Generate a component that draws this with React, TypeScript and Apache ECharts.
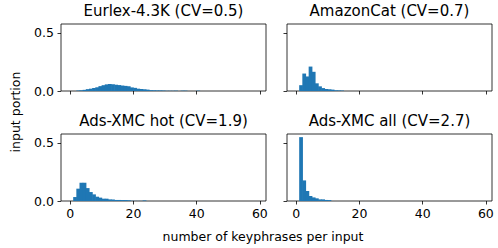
import React, { useEffect, useRef } from "react";
import * as echarts from "echarts";

// histogram heights per integer bin [k, k+1), k = 0, 1, 2, ...
const eurlex = [0, 0, 0.004, 0.006, 0.01, 0.016, 0.02, 0.026, 0.032, 0.042, 0.05, 0.057, 0.06, 0.058, 0.054, 0.051, 0.047, 0.044, 0.04, 0.031, 0.027, 0.02, 0.017, 0.015, 0.012, 0.007, 0.006, 0.005, 0.005, 0.004, 0.002, 0.002, 0.002, 0.003, 0, 0.003, 0.003, 0, 0, 0, 0.003];
const amazonCat = [0, 0.05, 0.15, 0.125, 0.21, 0.165, 0.066, 0.04, 0.025, 0.017, 0.015, 0.012, 0.006, 0.005, 0.004];
const adsHot = [0, 0.034, 0.106, 0.157, 0.157, 0.111, 0.077, 0.057, 0.037, 0.029, 0.02, 0.02, 0.014, 0.013, 0.009, 0.009, 0.008, 0.008, 0.007, 0.002, 0.001, 0.001, 0.001, 0.005];
const adsAll = [0, 0.549, 0.177, 0.086, 0.043, 0.031, 0.023, 0.014, 0.014, 0.009, 0.008];

const titles = ["Eurlex-4.3K (CV=0.5)", "AmazonCat (CV=0.7)", "Ads-XMC hot (CV=1.9)", "Ads-XMC all (CV=2.7)"];
const xTicks = [0, 20, 40, 60];
const yTicks = [0, 0.5];
const xLabel = "number of keyphrases per input";
const yLabel = "input portion";

const FONT = "DejaVu Sans";

export default function App() {
  const ref = useRef<HTMLDivElement>(null);
  useEffect(() => {
    if (!ref.current) return;
    const chart = echarts.init(ref.current, undefined, { renderer: "svg" });
    const datasets = [eurlex, amazonCat, adsHot, adsAll];
    const lefts = [61, 287];
    const tops = [24, 134];
    const W = 205;
    const H = 67;
    const grids: any[] = [];
    const xAxes: any[] = [];
    const yAxes: any[] = [];
    const series: any[] = [];
    const titleArr: any[] = [];
    for (let i = 0; i < 4; i++) {
      const col = i % 2;
      const row = Math.floor(i / 2);
      grids.push({
        left: lefts[col], top: tops[row], width: W, height: H,
        show: true, borderColor: "#000", borderWidth: 0.8, backgroundColor: "#fff",
      });
      xAxes.push({
        type: "value", gridIndex: i, min: -2.95, max: 61.95,
        axisLine: { show: false, onZero: false },
        splitLine: { show: false },
        axisTick: { show: true, length: 3.5, lineStyle: { color: "#000", width: 0.8 }, customValues: xTicks },
        axisLabel: {
          show: row === 1, margin: 6, fontSize: 12.5, fontFamily: FONT, color: "#000",
          customValues: xTicks, formatter: (v: number) => String(v),
        },
      });
      yAxes.push({
        type: "value", gridIndex: i, min: 0, max: 0.576,
        axisLine: { show: false, onZero: false },
        splitLine: { show: false },
        axisTick: { show: true, length: 3.5, lineStyle: { color: "#000", width: 0.8 }, customValues: yTicks },
        axisLabel: {
          show: col === 0, margin: 7, fontSize: 12.5, fontFamily: FONT, color: "#000",
          customValues: yTicks, formatter: (v: number) => v.toFixed(1),
        },
      });
      series.push({
        type: "custom", xAxisIndex: i, yAxisIndex: i,
        data: datasets[i].map((h, k) => [k, h]),
        renderItem: (params: any, api: any) => {
          const x0 = api.value(0);
          const h = api.value(1);
          if (!h) return null;
          const p0 = api.coord([x0, 0]);
          const p1 = api.coord([x0 + 1, h]);
          return {
            type: "rect",
            shape: { x: p0[0] - 0.3, y: p1[1], width: p1[0] - p0[0] + 0.6, height: p0[1] - p1[1] },
            style: { fill: "#1f77b4" },
          };
        },
        z: 1,
      });
      titleArr.push({
        text: titles[i], left: lefts[col] + W / 2, top: tops[row] - 21, textAlign: "center", padding: 0,
        textStyle: { fontSize: 15, fontWeight: "normal", fontFamily: FONT, color: "#000" },
      });
    }
    chart.setOption({
      animation: false,
      backgroundColor: "#fff",
      title: titleArr,
      grid: grids,
      xAxis: xAxes,
      yAxis: yAxes,
      series,
      graphic: [
        {
          type: "text", x: 263, y: 236,
          style: { text: xLabel, fontSize: 12.5, fontFamily: FONT, fill: "#000", align: "center", verticalAlign: "middle" },
        },
        {
          type: "text", x: 15, y: 112, rotation: Math.PI / 2,
          style: { text: yLabel, fontSize: 12.5, fontFamily: FONT, fill: "#000", align: "center", verticalAlign: "middle" },
        },
      ],
    });
    return () => chart.dispose();
  }, []);
  return <div ref={ref} style={{ width: 498, height: 248, position: "absolute", left: 0, top: 0 }} />;
}
